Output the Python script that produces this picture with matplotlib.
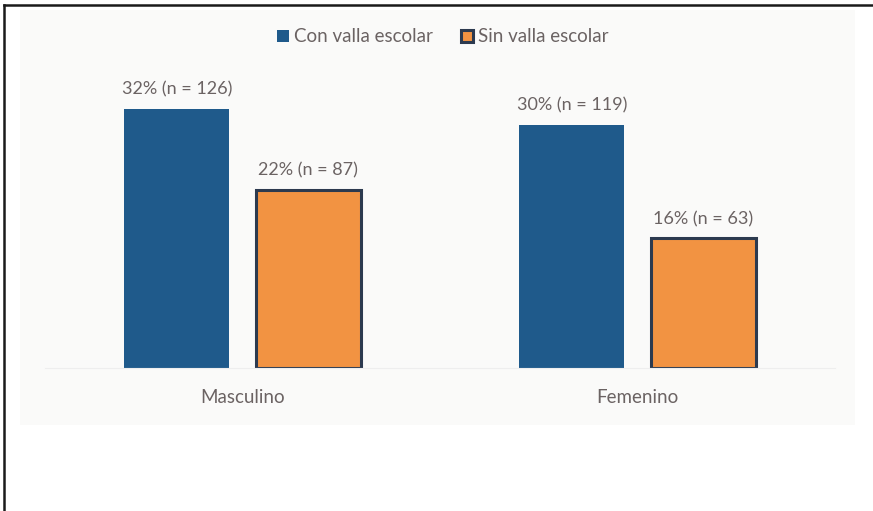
import matplotlib
matplotlib.use("Agg")
import matplotlib.pyplot as plt
from matplotlib.patches import Rectangle
from matplotlib.lines import Line2D

categories = ["Masculino", "Femenino"]
series_names = ["Con valla escolar", "Sin valla escolar"]
con_valla = [32, 30]
sin_valla = [22, 16]
con_n = [126, 119]
sin_n = [87, 63]

blue = "#1f5a8b"
orange = "#f29342"
edge = "#2c3a4f"
txt = "#6b6363"

plt.rcParams["font.family"] = ["Lato", "DejaVu Sans"]

fig = plt.figure(figsize=(8.73, 5.11), dpi=100)
fig.patch.set_facecolor("white")

# faint grey scan background behind the chart
fig.patches.append(Rectangle((20 / 873, 1 - 425 / 511), 835 / 873, 415 / 511,
                             transform=fig.transFigure, facecolor="#fafaf9",
                             edgecolor="none", zorder=-1))
# frame lines (top and left)
fig.add_artist(Line2D([4 / 873, 1], [1 - 5 / 511, 1 - 5 / 511], color="#1a1a1a", lw=1.8))
fig.add_artist(Line2D([4 / 873, 4 / 873], [0, 1 - 5 / 511], color="#1a1a1a", lw=1.8))

ax = fig.add_axes([45 / 873, 1 - 368 / 511, 790 / 873, 358 / 511])
ax.set_zorder(2)
ax.set_facecolor("none")

x = [0, 1]
w = 0.266
off = 0.166
b1 = ax.bar([i - off for i in x], con_valla, w, color=blue, label=series_names[0], zorder=2)
b2 = ax.bar([i + off for i in x], sin_valla, w, color=orange, edgecolor=edge, linewidth=2.2,
            label=series_names[1], zorder=2)

for rect, v, n in zip(b1, con_valla, con_n):
    ax.annotate(f"{v}% (n = {n})", (rect.get_x() + rect.get_width() / 2, v),
                xytext=(0, 8), textcoords="offset points", ha="center", va="bottom",
                fontsize=13, color=txt)
for rect, v, n in zip(b2, sin_valla, sin_n):
    ax.annotate(f"{v}% (n = {n})", (rect.get_x() + rect.get_width() / 2, v),
                xytext=(0, 8), textcoords="offset points", ha="center", va="bottom",
                fontsize=13, color=txt)

ax.set_xlim(-0.5, 1.5)
ax.set_ylim(0, 44.2)
ax.set_xticks(x)
ax.set_xticklabels(categories, fontsize=13.5, color=txt)
ax.tick_params(axis="x", length=0, pad=15)
ax.set_yticks([])
for s in ["top", "right", "left"]:
    ax.spines[s].set_visible(False)
ax.spines["bottom"].set_color("#eeeeee")
ax.spines["bottom"].set_linewidth(0.8)

fig.legend(handles=[b1, b2], labels=series_names, loc="center",
           bbox_to_anchor=(443 / 873, 1 - 37 / 511), ncol=2, frameon=False,
           fontsize=13.5, labelcolor=txt, handlelength=0.6, handleheight=0.6,
           handletextpad=0.3, columnspacing=1.5)

fig.savefig("out.png", dpi=100)
